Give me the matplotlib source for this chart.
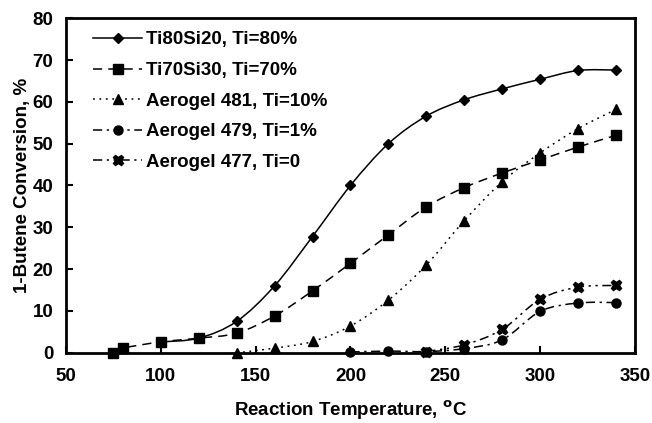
import numpy as np
import matplotlib
matplotlib.use('Agg')
import matplotlib.pyplot as plt
from matplotlib.path import Path
from matplotlib.patches import PathPatch
from matplotlib.lines import Line2D

# data
x_8020 = [100, 120, 140, 160, 180, 200, 220, 240, 260, 280, 300, 320, 340]
y_8020 = [2.6, 3.5, 7.5, 16.0, 27.8, 40.0, 50.0, 56.6, 60.5, 63.1, 65.4, 67.5, 67.6]

x_7030 = [75, 80, 100, 120, 140, 160, 180, 200, 220, 240, 260, 280, 300, 320, 340]
y_7030 = [0.0, 1.1, 2.6, 3.5, 4.7, 8.8, 14.8, 21.4, 28.2, 34.9, 39.5, 43.0, 46.1, 49.2, 52.0]

x_481 = [140, 160, 180, 200, 220, 240, 260, 280, 300, 320, 340]
y_481 = [0.0, 1.1, 2.7, 6.4, 12.6, 21.0, 31.6, 40.9, 47.8, 53.6, 58.2]

x_479 = [200, 220, 240, 260, 280, 300, 320, 340]
y_479 = [0.2, 0.4, 0.3, 1.0, 3.1, 9.9, 11.9, 12.0]

x_477 = [240, 260, 280, 300, 320, 340]
y_477 = [0.3, 1.9, 5.6, 12.8, 15.7, 16.1]

labels = ['Ti80Si20, Ti=80%', 'Ti70Si30, Ti=70%', 'Aerogel 481, Ti=10%',
          'Aerogel 479, Ti=1%', 'Aerogel 477, Ti=0']

plt.rcParams['font.family'] = ['Liberation Sans', 'DejaVu Sans']
plt.rcParams['font.weight'] = 'bold'
FS = 13.5


def smooth_path(x, y):
    # excel-like smoothed line as cubic bezier segments through the points
    x = np.asarray(x, float)
    y = np.asarray(y, float)
    n = len(x)
    verts = [(x[0], y[0])]
    codes = [Path.MOVETO]
    for i in range(n - 1):
        x0, y0 = (x[i - 1], y[i - 1]) if i > 0 else (x[i], y[i])
        x3, y3 = (x[i + 2], y[i + 2]) if i + 2 < n else (x[i + 1], y[i + 1])
        c1 = (x[i] + (x[i + 1] - x0) / 6, y[i] + (y[i + 1] - y0) / 6)
        c2 = (x[i + 1] - (x3 - x[i]) / 6, y[i + 1] - (y3 - y[i]) / 6)
        verts += [c1, c2, (x[i + 1], y[i + 1])]
        codes += [Path.CURVE4] * 3
    return Path(verts, codes)


fig = plt.figure(figsize=(6.52, 4.23), dpi=100)
ax = fig.add_axes([0.101, 0.166, 0.873, 0.791])

series = [
    (x_8020, y_8020, '-', 'D', 5),
    (x_7030, y_7030, (0, (6, 4)), 's', 6.5),
    (x_481, y_481, (0, (1.2, 3)), '^', 7),
    (x_479, y_479, (0, (6, 3, 1.5, 3)), 'o', 6.5),
    (x_477, y_477, (0, (6, 3, 1.5, 3, 1.5, 3)), 'X', 7.5),
]

handles = []
for (xs, ys, ls, mk, ms), lab in zip(series, labels):
    patch = PathPatch(smooth_path(xs, ys), fill=False, edgecolor='black',
                      lw=1.1, linestyle=ls)
    ax.add_patch(patch)
    ax.plot(xs, ys, linestyle='none', marker=mk, ms=ms, color='black',
            clip_on=False, zorder=3)
    handles.append(Line2D([], [], color='black', lw=1.1, linestyle=ls,
                          marker=mk, ms=ms))

ax.set_xlim(50, 350)
ax.set_ylim(0, 80)
ax.set_xticks(range(50, 351, 50))
ax.set_yticks(range(0, 81, 10))
ax.tick_params(direction='in', length=5, width=1.5, labelsize=FS)
ax.tick_params(axis='x', pad=11)
ax.tick_params(axis='y', pad=9)
for lab in ax.get_xticklabels() + ax.get_yticklabels():
    lab.set_fontweight('bold')
for sp in ax.spines.values():
    sp.set_linewidth(2)

ax.set_xlabel(r'Reaction Temperature, $^{\mathbf{o}}$C', fontsize=FS,
              fontweight='bold', labelpad=10)
ax.set_ylabel('1-Butene Conversion, %', fontsize=FS, fontweight='bold',
              labelpad=1)

leg = ax.legend(handles, labels, loc='upper left', frameon=False,
                fontsize=FS, handlelength=2.6, labelspacing=0.72,
                borderaxespad=0.3, bbox_to_anchor=(0.025, 1.0),
                handletextpad=0.2)
for t in leg.get_texts():
    t.set_fontweight('bold')

fig.savefig('out.png', dpi=100)
